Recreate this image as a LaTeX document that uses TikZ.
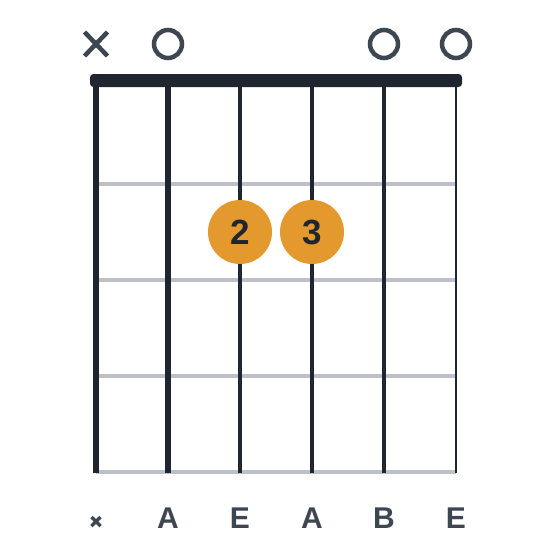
\documentclass[tikz,border=0pt]{standalone}
\usepackage{fontspec}
\setmainfont{Liberation Sans}
\usetikzlibrary{calc}
\definecolor{ink}{HTML}{1F2630}
\definecolor{mark}{HTML}{3E4651}
\definecolor{fret}{HTML}{BCC0C7}
\definecolor{dot}{HTML}{E4992F}
\tikzset{
  fretline/.style={draw=fret, line width=3.6pt},
  stringline/.style={draw=ink},
  dotnode/.style={circle, fill=dot, minimum size=64pt, inner sep=0pt, text=ink, font=\fontsize{35}{35}\selectfont\bfseries},
  openmark/.style={circle, draw=mark, line width=4.5pt, minimum size=28pt, inner sep=0pt},
  mutemark/.style={draw=mark, line width=4.5pt},
  smallmute/.style={draw=mark, line width=3.5pt},
  notelabel/.style={text=mark, font=\fontsize{30}{30}\selectfont\bfseries, inner sep=0pt, anchor=center}
}
\begin{document}
\begin{tikzpicture}[x=1pt,y=-1pt]
\useasboundingbox (0,0) rectangle (560,560);
% frets
\foreach \y/\n in {184/f1,280/f2,376/f3,472/f4} {
  \coordinate (\n l) at (96,\y);
  \coordinate (\n r) at (456,\y);
  \draw[fretline] (\n l) -- (\n r);
}
% strings
\foreach \x/\w/\n in {96/6/s1,168/5.2/s2,240/4.6/s3,312/4/s4,384/3.3/s5,456/2.7/s6} {
  \coordinate (\n t) at (\x,84);
  \coordinate (\n b) at (\x,473);
  \draw[stringline, line width=\w pt] (\n t) -- (\n b);
}
% nut
\fill[ink, rounded corners=3.5pt] (90,74) rectangle (462,87);
% dots
\node[dotnode] (d2) at (240,232) {2};
\node[dotnode] (d3) at (312,232) {3};
% top markers
\coordinate (xm) at (96,44);
\draw[mutemark] ($(xm)+(-11.5,-12)$) -- ($(xm)+(11.5,12)$);
\draw[mutemark] ($(xm)+(-11.5,12)$) -- ($(xm)+(11.5,-12)$);
\node[openmark] (o2) at (168,44) {};
\node[openmark] (o5) at (384,44) {};
\node[openmark] (o6) at (456,44) {};
% bottom labels
\coordinate (bx) at (96,521.5);
\draw[smallmute] ($(bx)+(-4.5,-4.5)$) -- ($(bx)+(4.5,4.5)$);
\draw[smallmute] ($(bx)+(-4.5,4.5)$) -- ($(bx)+(4.5,-4.5)$);
\node[notelabel] (n2) at (168,518) {A};
\node[notelabel] (n3) at (240,518) {E};
\node[notelabel] (n4) at (312,518) {A};
\node[notelabel] (n5) at (384,518) {B};
\node[notelabel] (n6) at (456,518) {E};
\end{tikzpicture}
\end{document}
